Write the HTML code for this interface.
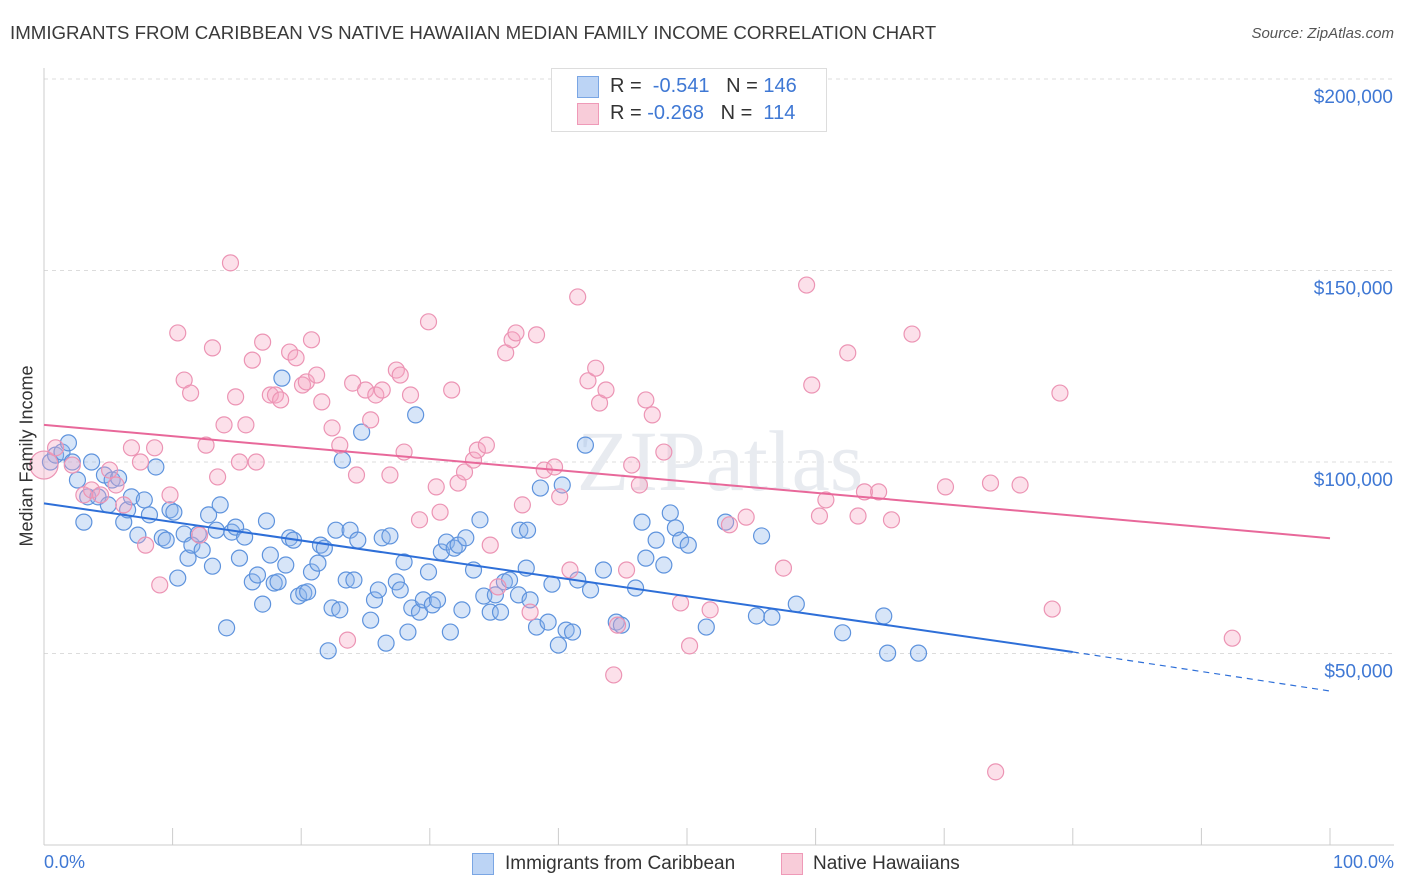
<!DOCTYPE html>
<html><head><meta charset="utf-8">
<style>
body{margin:0;background:#fff;font-family:"Liberation Sans",sans-serif;}
#wrap{position:relative;width:1406px;height:892px;overflow:hidden;}
.t{position:absolute;white-space:nowrap;}
</style></head><body>
<div id="wrap">
<div class="t" style="left:10px;top:22px;font-size:18.7px;color:#3a3a3a;">IMMIGRANTS FROM CARIBBEAN VS NATIVE HAWAIIAN MEDIAN FAMILY INCOME CORRELATION CHART</div>
<div class="t" style="right:12px;top:25px;font-size:15px;color:#555;font-style:italic;">Source: ZipAtlas.com</div>
<svg id="svg" width="1406" height="892" style="position:absolute;left:0;top:0"></svg>
</div>
<script>
const yTicks=[50000,100000,150000,200000];
const yTickLabels=["$50,000","$100,000","$150,000","$200,000"];
const xTickLabels=["0.0%","100.0%"];
const blueX=[0.5,0.9,1.4,1.9,2.2,2.6,3.1,3.4,3.7,4.2,4.7,5.0,5.3,5.8,6.2,6.5,6.8,7.3,7.8,8.2,8.7,9.2,9.5,9.8,10.1,10.4,10.9,11.2,11.5,12.0,12.3,12.8,13.1,13.4,13.7,14.2,14.6,14.9,15.2,15.6,16.2,16.6,17.0,17.3,17.6,17.9,18.2,18.5,18.8,19.1,19.4,19.8,20.2,20.5,20.8,21.3,21.5,21.8,22.1,22.4,22.7,23.0,23.2,23.5,23.8,24.1,24.4,24.7,25.4,25.7,26.0,26.3,26.6,26.9,27.4,27.7,28.0,28.3,28.6,28.9,29.2,29.5,29.9,30.2,30.6,30.9,31.3,31.6,31.9,32.2,32.5,32.8,33.4,33.9,34.2,34.7,35.1,35.5,35.8,36.2,36.9,37.0,37.5,37.6,37.8,38.3,38.6,39.2,39.5,40.0,40.3,40.6,41.1,41.5,42.1,42.5,43.5,44.5,44.9,46.0,46.5,46.8,47.6,48.2,48.7,49.1,49.5,50.1,51.5,53.0,55.4,55.8,56.6,58.5,62.1,65.3,65.6,68.0];
const blueY=[100.0,101.8,102.6,105.0,100.0,95.3,84.3,90.9,100.0,90.9,96.6,88.8,95.3,95.8,84.3,87.5,90.9,80.9,90.1,86.2,98.7,80.2,79.6,87.5,86.9,69.7,81.2,74.9,78.3,81.2,77.0,86.2,72.8,82.2,88.8,56.7,81.7,83.0,74.9,80.4,68.7,70.5,62.9,84.6,75.7,68.4,68.7,121.9,73.1,80.2,79.6,65.0,65.8,66.1,71.3,73.6,78.3,77.5,50.7,61.9,82.2,61.4,100.5,69.2,82.2,69.2,79.6,107.8,58.7,64.0,66.6,80.2,52.7,80.7,68.7,66.6,73.9,55.6,61.9,112.3,60.8,64.0,71.3,62.7,64.0,76.5,79.1,55.6,77.5,78.3,61.4,80.2,71.8,84.9,65.0,60.8,65.3,60.8,68.7,69.2,65.3,82.2,72.3,82.2,64.0,56.9,93.2,58.2,68.1,52.2,94.0,56.1,55.6,69.2,104.4,66.6,71.8,58.2,57.4,67.1,84.3,74.9,79.6,73.1,86.7,82.8,79.6,78.3,56.9,84.3,59.8,80.7,59.5,62.9,55.4,59.8,50.1,50.1];
const pinkX=[0,0.9,2.2,3.1,3.7,4.4,5.1,5.6,6.2,6.8,7.5,7.9,8.6,9.0,9.8,10.4,10.9,11.4,12.1,12.6,13.1,13.5,14.0,14.5,14.9,15.2,15.7,16.2,16.5,17.0,17.6,18.0,18.4,19.1,19.6,20.1,20.4,20.8,21.2,21.6,22.4,23.0,23.6,24.0,24.3,25.0,25.4,25.8,26.3,26.9,27.4,27.7,28.0,28.5,29.2,29.9,30.5,30.8,31.7,32.2,32.7,33.4,33.7,34.4,34.7,35.3,35.9,36.4,36.7,37.2,37.8,38.3,38.9,39.7,40.1,40.9,41.5,42.3,42.9,43.2,43.7,44.3,44.6,45.3,45.7,46.3,46.8,47.3,48.2,49.5,50.2,51.8,53.3,54.6,57.5,59.3,59.7,60.3,60.8,62.5,63.3,63.8,64.9,65.9,67.5,70.1,73.6,74.0,75.9,78.4,79.0,92.4];
const pinkY=[99.2,103.7,99.2,91.4,92.7,91.4,97.9,94.0,88.8,103.7,100.0,78.3,103.7,67.9,91.4,133.7,121.4,118.0,80.9,104.4,129.8,96.1,109.7,152.0,117.0,100.0,109.7,126.6,100.0,131.3,117.5,117.5,116.2,128.7,127.2,120.1,120.9,131.9,122.7,115.7,108.9,104.4,53.5,120.6,96.6,118.8,111.0,117.5,118.8,96.6,124.0,122.7,102.6,117.5,84.9,136.6,93.5,86.9,118.8,94.5,97.4,100.5,103.1,104.4,78.3,67.4,128.5,131.9,133.7,88.8,60.8,133.2,97.9,98.7,90.9,71.8,143.1,121.2,124.5,115.4,118.8,44.4,57.4,71.8,99.2,94.0,116.2,112.3,102.6,63.2,52.0,61.4,83.6,85.6,72.3,146.2,120.1,85.9,90.1,128.5,85.9,92.2,92.2,84.9,133.4,93.5,94.5,19.1,94.0,61.6,118.0,54.0];
const blueTrendX=[0,80,100];const blueTrendY=[89.2,50.4,40.2];
const pinkTrendX=[0,100];const pinkTrendY=[109.7,80.1];

const X0=44,X1=1330,Y0=845,PXK=191.5/50;
const sx=v=>X0+(X1-X0)*v/100;
const sy=k=>Y0-k*PXK;
const NS="http://www.w3.org/2000/svg";
const svg=document.getElementById('svg');
function mk(tag,attrs,name){const e=document.createElementNS(NS,tag);for(const k in attrs)e.setAttribute(k,attrs[k]);


svg.appendChild(e);return e;}
yTicks.forEach((v,i)=>{const y=sy(v/1000);
mk('line',{x1:X0,x2:1394,y1:y,y2:y,stroke:'#dcdcdc','stroke-dasharray':'4,4'},'gridline');
const t=mk('text',{x:1393,y:y+24,'text-anchor':'end','font-size':19,fill:'#3f78d4','font-family':'Liberation Sans, sans-serif'},'y-tick-label');t.textContent=yTickLabels[i];});
mk('line',{x1:X0,x2:X0,y1:68,y2:Y0,stroke:'#ccc'},'y-axis-line');
mk('line',{x1:X0,x2:1394,y1:Y0,y2:Y0,stroke:'#ccc'},'x-axis-line');
for(let i=0;i<=10;i++){const x=X0+i*(X1-X0)/10;mk('line',{x1:x,x2:x,y1:828,y2:Y0,stroke:'#ccc'},'x-tick');}
const wm=mk('text',{x:720,y:490,'text-anchor':'middle','font-size':86,fill:'#e8ebf0','font-family':'Liberation Serif, serif'},'watermark');wm.textContent='ZIPatlas';
blueX.forEach((v,i)=>mk('circle',{cx:sx(v),cy:sy(blueY[i]),r:8,fill:'rgba(140,180,235,0.35)',stroke:'#5e93dd','stroke-width':1.2},'caribbean-point'));
pinkX.forEach((v,i)=>mk('circle',{cx:sx(v),cy:sy(pinkY[i]),r:i===0?14:8,fill:'rgba(245,165,195,0.35)',stroke:'#ec94b4','stroke-width':1.2},'hawaiian-point'));
mk('line',{x1:sx(blueTrendX[0]),y1:sy(blueTrendY[0]),x2:sx(blueTrendX[1]),y2:sy(blueTrendY[1]),stroke:'#2e6fd8','stroke-width':2},'caribbean-trend-line');
mk('line',{x1:sx(blueTrendX[1]),y1:sy(blueTrendY[1]),x2:sx(blueTrendX[2]),y2:sy(blueTrendY[2]),stroke:'#2e6fd8','stroke-width':1.2,'stroke-dasharray':'6,5'},'caribbean-trend-extension');
mk('line',{x1:sx(pinkTrendX[0]),y1:sy(pinkTrendY[0]),x2:sx(pinkTrendX[1]),y2:sy(pinkTrendY[1]),stroke:'#e8689a','stroke-width':2},'hawaiian-trend-line');
</script>
<div class="t" style="left:27px;top:456px;transform:translate(-50%,-50%) rotate(-90deg);font-size:18px;color:#333;">Median Family Income</div>
<div class="t" style="left:44px;top:852px;font-size:18px;color:#3f78d4;">0.0%</div>
<div class="t" style="right:12px;top:852px;font-size:18px;color:#3f78d4;">100.0%</div>
<div style="position:absolute;left:551px;top:68px;width:274px;height:62px;border:1px solid #ddd;background:#fff;font-size:20px;">
 <div style="position:absolute;left:25px;top:7px;width:20px;height:20px;background:#bcd4f5;border:1px solid #7aa6e4;"></div>
 <div class="t" style="left:58px;top:6px;color:#333;">R = <span style="color:#3f78d4">&nbsp;-0.541</span>&nbsp;&nbsp;&nbsp;N = <span style="color:#3f78d4">146</span></div>
 <div style="position:absolute;left:25px;top:34px;width:20px;height:20px;background:#f8ccd9;border:1px solid #ef9ab8;"></div>
 <div class="t" style="left:58px;top:33px;color:#333;">R = <span style="color:#3f78d4">-0.268</span>&nbsp;&nbsp;&nbsp;N = <span style="color:#3f78d4">&nbsp;114</span></div>
</div>
<div style="position:absolute;left:472px;top:853px;width:20px;height:20px;background:#bcd4f5;border:1px solid #7aa6e4;"></div>
<div class="t" style="left:505px;top:853px;font-size:19px;color:#333;">Immigrants from Caribbean</div>
<div style="position:absolute;left:781px;top:853px;width:20px;height:20px;background:#f8ccd9;border:1px solid #ef9ab8;"></div>
<div class="t" style="left:813px;top:853px;font-size:19px;color:#333;">Native Hawaiians</div>
</body></html>
